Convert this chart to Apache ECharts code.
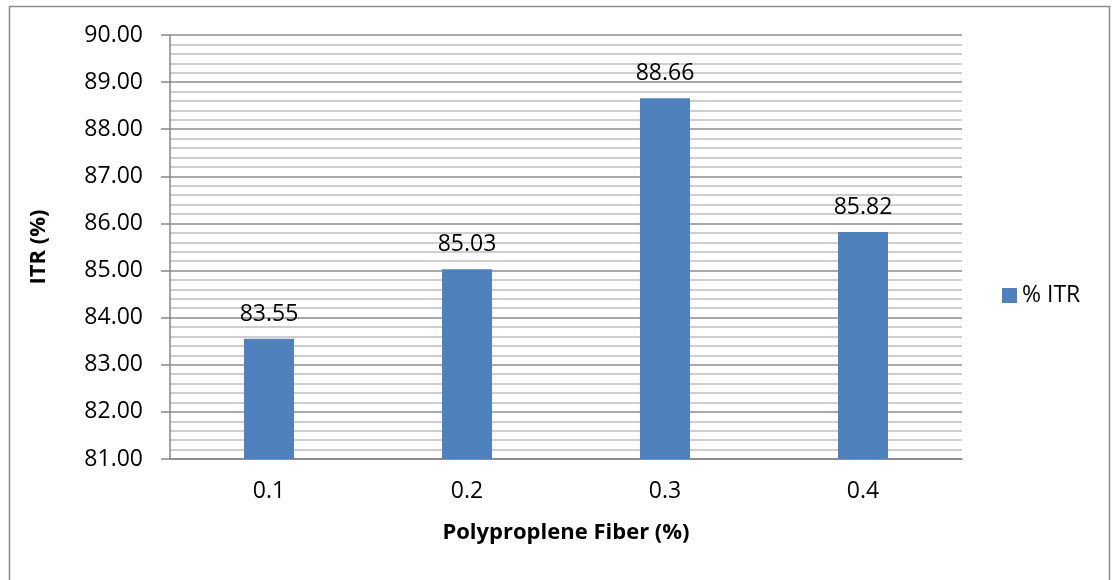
<!DOCTYPE html>
<html>
<head>
<meta charset="utf-8">
<script src="https://cdn.jsdelivr.net/npm/echarts@6/dist/echarts.min.js"></script>
<style>
  html, body { margin: 0; padding: 0; background: #fff; }
  #chart { width: 1112px; height: 580px; }
</style>
</head>
<body>
<div id="chart"></div>
<script>
// values
var fiberCategories = ['0.1', '0.2', '0.3', '0.4']
var itrValues = [83.55, 85.03, 88.66, 85.82]
var seriesName = '% ITR'

var font = 'Open Sans'

var chart = echarts.init(document.getElementById('chart'))
chart.setOption({
    animation: false,
    backgroundColor: '#fff',
    textStyle: { fontFamily: font, color: '#000' },
    graphic: [{
        type: 'rect',
        shape: { x: 9.5, y: 6.5, width: 1100, height: 620 },
        style: { fill: 'none', stroke: '#8c8c8c', lineWidth: 1.5 },
        silent: true
    }],
    grid: { left: 170, right: 150, top: 35, bottom: 121 },
    legend: {
        data: [seriesName],
        orient: 'vertical',
        left: 997,
        top: 279,
        itemWidth: 15,
        itemHeight: 15,
        itemGap: 8,
        icon: 'rect',
        textStyle: { fontFamily: font, fontSize: 23, color: '#000' }
    },
    xAxis: {
        type: 'category',
        data: fiberCategories,
        name: 'Polyproplene Fiber (%)',
        nameLocation: 'middle',
        nameGap: 63,
        nameTextStyle: { fontFamily: font, fontSize: 22, fontWeight: 'bold', color: '#000' },
        axisLine: { lineStyle: { color: '#868686', width: 1.5 } },
        axisTick: { show: false },
        axisLabel: { margin: 21, fontSize: 23, color: '#000' },
        splitLine: { show: false }
    },
    yAxis: {
        type: 'value',
        min: 81,
        max: 90,
        interval: 1,
        name: 'ITR (%)',
        nameLocation: 'middle',
        nameGap: 120,
        nameRotate: 90,
        nameTextStyle: { fontFamily: font, fontSize: 22, fontWeight: 'bold', color: '#000' },
        axisLine: { show: true, lineStyle: { color: '#868686', width: 1.5 } },
        axisTick: { show: true, inside: false, length: 9, lineStyle: { color: '#868686', width: 1.5 } },
        axisLabel: {
            margin: 27,
            fontSize: 23,
            color: '#000',
            formatter: function (v) { return v.toFixed(2) }
        },
        splitLine: { show: true, lineStyle: { color: '#8c8c8c', width: 1.5 } },
        minorTick: { show: false, splitNumber: 5 },
        minorSplitLine: { show: true, lineStyle: { color: '#bfbfbf', width: 1.5 } }
    },
    series: [{
        name: seriesName,
        type: 'bar',
        data: itrValues,
        barWidth: 50,
        itemStyle: { color: '#4f81bd' },
        label: {
            show: true,
            position: 'top',
            distance: 13,
            fontFamily: font,
            fontSize: 23,
            color: '#000',
            formatter: function (p) { return p.value.toFixed(2) }
        }
    }]
})
</script>
</body>
</html>
